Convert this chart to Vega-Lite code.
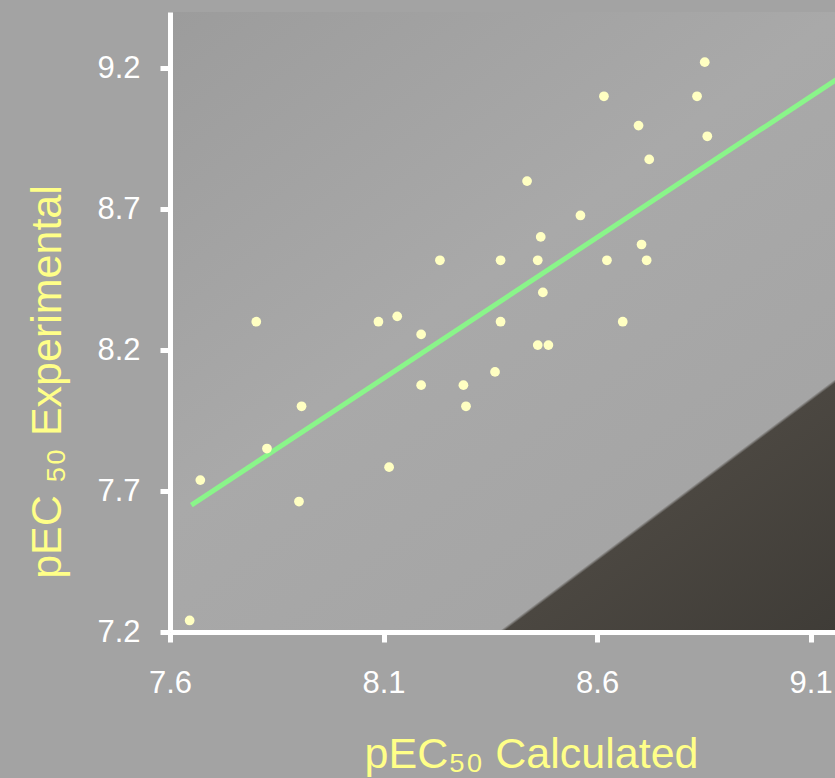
{
  "$schema": "https://vega.github.io/schema/vega-lite/v6.json",
  "width": 665,
  "height": 620,
  "autosize": {"type": "none"},
  "padding": {"left": 170, "top": 12, "right": 0, "bottom": 146},
  "background": "#a3a3a3",
  "view": {
    "stroke": null,
    "fill": {
      "gradient": "linear",
      "x1": 0, "y1": 0, "x2": 0.8813, "y2": 1.0955,
      "stops": [
        {"offset": 0, "color": "#9c9c9c"},
        {"offset": 0.45, "color": "#a9a9a9"},
        {"offset": 0.774, "color": "#a5a5a5"},
        {"offset": 0.7775, "color": "#4b4741"},
        {"offset": 1, "color": "#3f3c37"}
      ]
    }
  },
  "datasets": {
    "points": [
      {"calculated": 8.852, "experimental": 9.222},
      {"calculated": 8.616, "experimental": 9.101},
      {"calculated": 8.834, "experimental": 9.101},
      {"calculated": 8.697, "experimental": 8.997},
      {"calculated": 8.858, "experimental": 8.959},
      {"calculated": 8.722, "experimental": 8.877},
      {"calculated": 8.436, "experimental": 8.800},
      {"calculated": 8.561, "experimental": 8.678},
      {"calculated": 8.468, "experimental": 8.602},
      {"calculated": 8.704, "experimental": 8.575},
      {"calculated": 8.232, "experimental": 8.519},
      {"calculated": 8.374, "experimental": 8.519},
      {"calculated": 8.461, "experimental": 8.519},
      {"calculated": 8.623, "experimental": 8.519},
      {"calculated": 8.716, "experimental": 8.519},
      {"calculated": 8.473, "experimental": 8.405},
      {"calculated": 7.802, "experimental": 8.301},
      {"calculated": 8.088, "experimental": 8.301},
      {"calculated": 8.132, "experimental": 8.320},
      {"calculated": 8.374, "experimental": 8.301},
      {"calculated": 8.660, "experimental": 8.301},
      {"calculated": 8.188, "experimental": 8.256},
      {"calculated": 8.461, "experimental": 8.218},
      {"calculated": 8.486, "experimental": 8.218},
      {"calculated": 8.361, "experimental": 8.123},
      {"calculated": 8.188, "experimental": 8.076},
      {"calculated": 8.287, "experimental": 8.076},
      {"calculated": 8.293, "experimental": 8.001},
      {"calculated": 7.908, "experimental": 8.001},
      {"calculated": 7.827, "experimental": 7.851},
      {"calculated": 7.671, "experimental": 7.739},
      {"calculated": 8.113, "experimental": 7.785},
      {"calculated": 7.902, "experimental": 7.663},
      {"calculated": 7.646, "experimental": 7.241}
    ],
    "fit": [
      {"calculated": 7.65, "experimental": 7.65},
      {"calculated": 9.2, "experimental": 9.2}
    ]
  },
  "encoding": {
    "x": {
      "field": "calculated",
      "type": "quantitative",
      "scale": {"domain": [7.6, 9.157], "nice": false, "zero": false},
      "axis": {
        "values": [7.6, 8.1, 8.6, 9.1],
        "format": ".1f",
        "title": "pEC₅₀ Calculated",
        "titleX": 361,
        "titleY": 135,
        "titleAlign": "center",
        "titleBaseline": "alphabetic",
        "labelPadding": 26
      }
    },
    "y": {
      "field": "experimental",
      "type": "quantitative",
      "scale": {"domain": [7.2, 9.4], "nice": false, "zero": false},
      "axis": {
        "values": [7.2, 7.7, 8.2, 8.7, 9.2],
        "format": ".1f",
        "title": "pEC ₅₀ Experimental",
        "titleX": -110,
        "titleY": 369.5,
        "titleAngle": 270,
        "titleAlign": "center",
        "titleBaseline": "alphabetic",
        "labelPadding": 20
      }
    }
  },
  "layer": [
    {
      "data": {"name": "fit"},
      "mark": {"type": "line", "color": "#8af58a", "strokeWidth": 5, "clip": true}
    },
    {
      "data": {"name": "points"},
      "mark": {"type": "circle", "size": 95, "color": "#ffffc2", "opacity": 1}
    }
  ],
  "config": {
    "axis": {
      "grid": false,
      "domainColor": "#ffffff",
      "domainWidth": 5,
      "tickColor": "#ffffff",
      "tickWidth": 5,
      "tickSize": 10,
      "labelColor": "#ffffff",
      "labelFont": "Liberation Sans",
      "labelFontSize": 31,
      "labelFlush": false,
      "labelOverlap": false,
      "titleColor": "#ffff88",
      "titleFont": "Liberation Sans",
      "titleFontSize": 43,
      "titleFontWeight": "normal"
    }
  }
}
